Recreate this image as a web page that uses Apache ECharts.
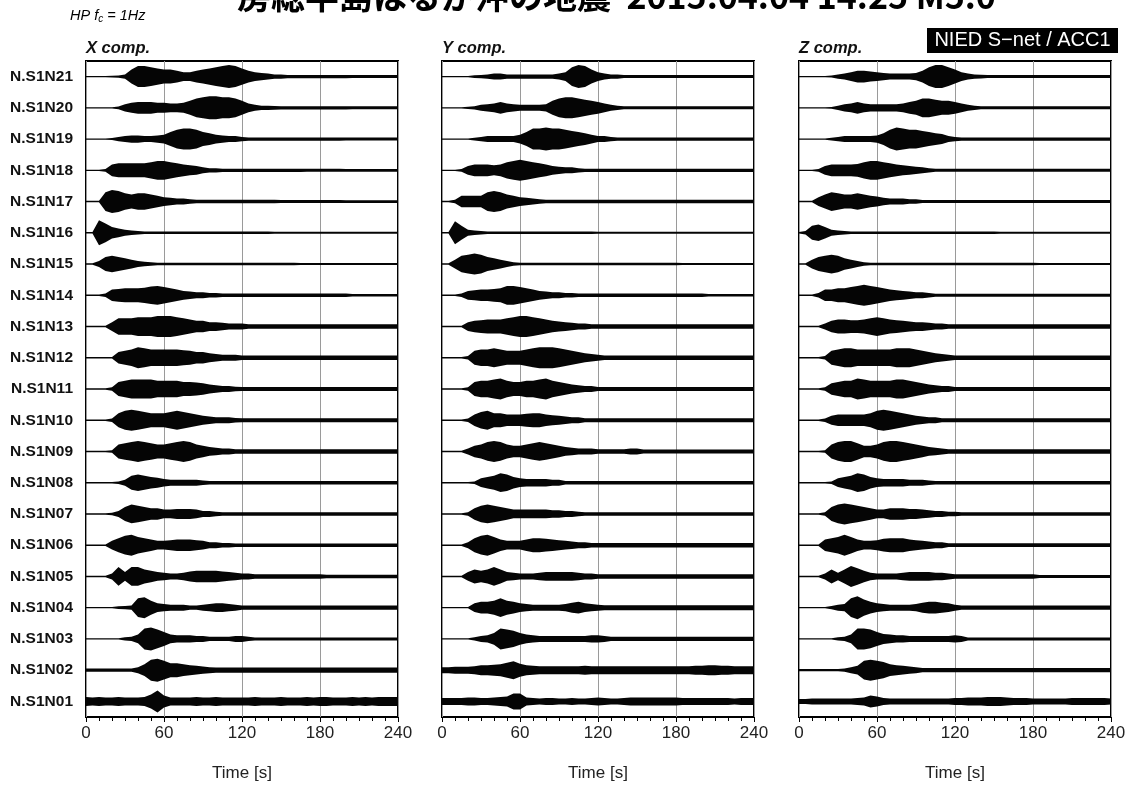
<!DOCTYPE html>
<html><head><meta charset="utf-8">
<script src="https://cdn.jsdelivr.net/npm/echarts@6/dist/echarts.min.js"></script>
<style>html,body{margin:0;padding:0;background:#fff}#c{width:1132px;height:787px}</style>
</head><body><div id="c"></div>
<script>
// Time samples (s) at which the envelope of each trace was read
const times = [0,5,10,15,20,25,30,35,40,45,50,55,60,65,70,75,80,85,90,95,100,105,110,115,120,125,130,135,140,145,150,155,160,165,170,175,180,185,190,195,200,205,210,215,220,225,230,235,240];
// Stations, bottom (N01) to top (N21)
const stations = ['N.S1N01','N.S1N02','N.S1N03','N.S1N04','N.S1N05','N.S1N06','N.S1N07','N.S1N08','N.S1N09','N.S1N10','N.S1N11','N.S1N12','N.S1N13','N.S1N14','N.S1N15','N.S1N16','N.S1N17','N.S1N18','N.S1N19','N.S1N20','N.S1N21'];
const componentNames = ['X comp.','Y comp.','Z comp.'];
const timeTicks = [0,60,120,180,240];
// Half-amplitude envelopes (1 unit = 1/31.25 of the trace spacing), rows N01..N21
const envX = [
 [4.5,4,4.5,4,4,4.5,4,4,4,4.5, 7,11,6,4,4,4,4,4.5,4,4, 4.5,4,4,4,4,4,4.5,4,4,4, 4.5,4,4,4,4.5,4,4.5,4.5,4,4, 4,4.5,4,4.5,4,4.5,4.5,4.5,4.5],
 [1.7,1.7,1.7,1.7,1.7,1.7,1.7,1.7,3,5.8, 10.5,11.5,9.4,7,7,5.8,5,4.4,3.7,3, 2.7,2.7,2.7,2.7,2.7,2.7,2.7,2.7,2.7,2.7, 2.7,2.7,2.7,2.7,2.7,2.7,2.7,2.7,2.7,2.7, 2.7,2.7,2.7,2.7,2.7,2.7,2.7,2.7,2.7],
 [.7,.7,.7,.7,.7,.7,1.7,2.2,4.4,10.5, 11.5,9.4,7,4.4,3.7,3.7,3.7,3,3,2.2, 2.2,2.2,2.2,3,3,2.2,1.5,1.5,1.5,1.5, 1.5,1.5,1.5,1.5,1.5,1.5,1.5,1.5,1.5,1.5, 1.5,1.5,1.5,1.5,1.5,1.5,1.5,1.5,1.5],
 [.7,.7,.7,.7,.7,1.3,1.7,2.2,9.4,10.5, 7,4.4,3.7,3,3,3,2.2,2.2,3,3.7, 4.4,4.4,3.7,3,2.2,2.2,2.2,2.2,2.2,2.2, 2.2,2.2,2.2,2.2,2.2,2.2,2.2,2.2,2.2,2.2, 2.2,2.2,2.2,2.2,2.2,2.2,2.2,2.2,2.2],
 [.7,.7,.7,.7,3,9.4,4.4,9.4,9.4,7, 5.8,4.4,3.7,3,3,3.7,5,5.8,5.8,5.8, 5.8,5,4.4,3.7,3,3,2.2,2.2,2.2,2.2, 2.2,2.2,2.2,2.2,2.2,2.2,2.2,1.7,1.7,1.7, 1.7,1.7,1.7,1.7,1.7,1.7,1.7,1.7,1.7],
 [.7,.7,.7,.7,4.4,7,9.4,10.5,8.2,7, 5.8,4.4,4.4,5,5.8,5.8,5.8,5,4.4,3, 3,2.2,2.2,1.7,1.7,1.7,1.7,1.7,1.7,1.7, 1.7,1.7,1.7,1.7,1.7,1.7,1.7,1.7,1.7,1.7, 1.7,1.7,1.7,1.7,1.7,1.7,1.7,1.7,1.7],
 [.7,.7,.7,.7,1.3,3,7,9.4,8.2,7, 5.8,5.8,4.4,4.4,5,5,5,4.4,3,3, 2.2,1.7,1.7,1.7,1.7,1.7,1.7,1.7,1.7,1.7, 1.7,1.7,1.7,1.7,1.7,1.7,1.7,1.7,1.7,1.7, 1.7,1.7,1.7,1.7,1.7,1.7,1.7,1.7,1.7],
 [.7,.7,.7,.7,.7,1.3,3,7,8.2,7, 5.8,5,3.7,3,3,3,3,3,2.2,1.7, 1.7,1.7,1.7,1.7,1.7,1.7,1.7,1.7,1.7,1.7, 1.7,1.7,1.7,1.7,1.7,1.7,1.7,1.7,1.7,1.7, 1.7,1.7,1.7,1.7,1.7,1.7,1.7,1.7,1.7],
 [.7,.7,.7,.7,1.3,7,8.2,9.4,10.5,9.4, 8.2,7,7,8.2,9.4,10.5,9.4,7,5.8,4.4, 3.7,3,3,2.2,2.2,2.2,2.2,2.2,2.2,2.2, 2.2,2.2,2.2,2.2,2.2,2.2,2.2,2.2,2.2,2.2, 2.2,2.2,2.2,2.2,2.2,2.2,2.2,2.2,2.2],
 [.7,.7,.7,.7,1.7,7,9.4,10.5,9.4,8.2, 7,7,7,8.2,9.4,8.2,7,5.8,4.4,3.7, 3,3,3,2.2,1.9,1.9,1.9,1.9,1.9,1.9, 1.9,1.9,1.9,1.9,1.9,1.9,1.9,1.9,1.9,1.9, 1.9,1.9,1.9,1.9,1.9,1.9,1.9,1.9,1.9],
 [.7,.7,.7,.7,1.7,7,8.2,9.4,9.4,9.4, 9.4,8.2,8.2,8.2,8.2,7,7,6.4,5.8,4.4, 3.7,3,3,2.2,2,2,2,2,2,2, 2,2,2,2,2,2,2,2,2,2, 2,2,2,2,2,2,2,2,2],
 [.7,.7,.7,.7,.7,5.8,7,8.2,10.5,9.4, 8.2,8.2,8.2,8.2,8.2,7.6,7,5.8,5.8,4.4, 3.7,3,3,3,2.2,2.2,2.2,2.2,2.2,2.2, 2.2,2.2,2.2,2.2,2.2,2.2,2.2,2.2,2.2,2.2, 2.2,2.2,2.2,2.2,2.2,2.2,2.2,2.2,2.2],
 [.7,.7,.7,.7,4.4,8.2,8.2,8.2,9.4,9.4, 9.4,10.5,10.5,10.5,9.4,8.2,7,5.8,5.8,4.4, 4.4,3.7,3,3,3,2.2,2.2,2.2,2.2,2.2, 2.2,2.2,2.2,2.2,2.2,2.2,2.2,2.2,2.2,2.2, 2.2,2.2,2.2,2.2,2.2,2.2,2.2,2.2,2.2],
 [.7,.7,.7,1.7,5.8,6.4,7,7,7,7.6, 8.8,9.4,8.2,7,5.8,4.4,3.7,3,3,2.2, 2.2,1.7,1.7,1.7,1.7,1.7,1.7,1.7,1.7,1.7, 1.7,1.7,1.7,1.7,1.7,1.7,1.7,1.7,1.7,1.7, 1.7,1.3,1.3,1.3,1.3,1.3,1.3,1.3,1.3],
 [.7,.7,3,7,8.2,7,5.8,4.4,3,2.2, 1.7,1.3,1.3,1.3,1.3,1.3,1.3,1.3,1.3,1.3, 1.3,1.3,1.3,1.3,1.3,1.3,1.3,1.3,1.3,1.3, 1.3,1.3,1.3,1,1,1,1,1,1,1, 1,1,1,1,1,1,1,1,1],
 [.7,.7,12.5,9.4,5.8,4.4,3,2.2,1.7,1.3, 1.3,1.3,1.3,1.3,1.3,1.3,1.3,1.3,1.3,1.3, 1.3,1.3,1.3,1.3,1.3,1.3,1.3,1.3,1.3,1, 1,1,1,1,1,1,1,1,1,1, 1,1,1,1,1,1,1,1,1],
 [.7,.7,.7,9.4,11.5,10.5,8.2,7,8.2,8.2, 7,5.8,4.4,3.7,3,3,2.2,1.7,1.7,1.7, 1.7,1.7,1.7,1.7,1.7,1.7,1.7,1.7,1.7,1.7, 1.5,1.5,1.5,1.5,1.5,1.5,1.5,1.5,1.5,1.5, 1.4,1.4,1.4,1.4,1.4,1.4,1.4,1.4,1.4],
 [.7,.7,.7,1.3,5.8,7,7,7,7,7, 8.2,9.4,9.4,8.2,7,5.8,5,4.4,3,2.2, 2.2,1.7,1.7,1.7,1.7,1.7,1.7,1.7,1.7,1.7, 1.7,1.7,1.7,1.7,1.5,1.5,1.5,1.5,1.5,1.5, 1.4,1.4,1.4,1.4,1.4,1.4,1.4,1.4,1.4],
 [.7,.7,.7,.7,1,2.2,3,3.7,3.7,3, 3,3.7,4.4,7,9.4,10.5,10.5,9.4,7,5.8, 4.4,3.7,3,3,2.2,1.7,1.7,1.7,1.7,1.7, 1.7,1.7,1.7,1.7,1.7,1.7,1.7,1.7,1.7,1.7, 1.5,1.5,1.5,1.5,1.5,1.5,1.5,1.5,1.5],
 [.7,.7,.7,.7,.7,1.3,3.7,5,5.8,5.8, 5.8,5,5,4.4,4.4,5,7,9.4,10.5,11.5, 11.5,10.5,10.5,9.4,7,4.4,3,2.2,2.2,1.9, 1.7,1.7,1.7,1.7,1.7,1.7,1.7,1.7,1.7,1.7, 1.7,1.5,1.5,1.5,1.5,1.5,1.5,1.5,1.5],
 [.7,.7,.7,.7,.8,1.1,2.2,7,10.5,10.5, 9.4,8.2,7,7,5.8,4.4,4.4,5.8,7,8.2, 9.4,10.5,11.5,10.5,8.2,5.8,4.4,3.7,3,2.2, 2.2,1.7,1.7,1.7,1.7,1.7,1.7,1.7,1.7,1.7, 1.7,1.5,1.5,1.5,1.5,1.5,1.5,1.5,1.5]
];
const envY = [
 [3.5,3.5,3.5,3.5,4,4,3.5,3.5,4,4.5, 5,8,8,4,3.5,3,3.5,3.5,3,3, 3.5,3,3,3.5,4,3.5,3,3,3.5,4, 4,4,4,4,4,4,4,3.5,3.5,3.5, 3.5,3.5,3.5,3.5,3.5,3,3.5,3.5,3.5],
 [3,3,3.5,3.5,3.5,4,5,5,5.5,6, 7.5,9,6.5,5,4.5,4,4,4,4,4, 4,4,4.5,4,4,4,4,4,4,4, 4,4,4,4,4,4,4,4,4,4.5, 4.5,5,5,4.5,4.5,4,4,4,4],
 [.7,.7,.7,.7,.7,1.7,3,3.7,5.8,10.5, 9.4,8.2,5.8,4.4,3.7,3,3,3,3,3, 3,3,3,3.7,3.7,3,2.2,2.2,2.2,2.2, 2.2,2.2,2.2,2.2,2.2,2.2,2.2,2.2,2.2,2.2, 2.2,2.2,2.2,2.2,2.2,2.2,2.2,2.2,2.2],
 [.7,.7,.7,.7,.7,4.4,5.8,5.8,7,9.4, 7,5.8,4.4,3.7,3,3,3,3,3,3.7, 5,5.8,4.4,3.7,3,2.5,2.5,2.5,2.5,2.5, 2.5,2.5,2.5,2.5,2.5,2.5,2.5,2.5,2.5,2.5, 2.5,2.5,2.5,2.5,2.5,2.5,2.5,2.5,2.5],
 [.7,.7,.7,.7,4.4,7,5.8,7,9.4,7, 4.4,3.7,3,3,3,3.7,4.4,4.4,4.4,4.4, 4.4,3.7,3,3,2.2,2.2,2.2,2.2,2.2,2.2, 2.2,2.2,2.2,2.2,2.2,2.2,2.2,2.2,2.2,2.2, 2.2,2.2,2.2,2.2,2.2,2.2,2.2,2.2,2.2],
 [.7,.7,.7,.7,3,7,9.4,10.5,8.2,5.8, 4.4,4.4,4.4,5.8,7,7,6.4,5.8,5,4.4, 3.7,3,3,2.2,2.2,2.2,2.2,2.2,2.2,2.2, 2.2,2.2,2.2,2.2,2.2,2.2,2.2,2.2,2.2,2.2, 2.2,2.2,2.2,2.2,2.2,2.2,2.2,2.2,2.2],
 [.7,.7,.7,.7,1.7,5.8,8.2,9.4,8.2,7, 5.8,4.4,4.4,4.4,4.4,4.4,4.4,3.7,3.7,3, 3,2.2,1.7,1.7,1.7,1.7,1.7,1.7,1.7,1.7, 1.7,1.7,1.7,1.7,1.7,1.7,1.7,1.7,1.7,1.7, 1.7,1.7,1.7,1.7,1.7,1.7,1.7,1.7,1.7],
 [.7,.7,.7,.7,.7,1.3,4.4,5.8,7,9.4, 8.2,5.8,4.4,3.7,3.7,3.7,3.7,3,3,1.7, 1.7,1.7,1.7,1.7,1.7,1.7,1.7,1.7,1.7,1.7, 1.7,1.7,1.7,1.7,1.7,1.7,1.7,1.7,1.7,1.7, 1.7,1.7,1.7,1.7,1.7,1.7,1.7,1.7,1.7],
 [.7,.7,.7,.7,3,5.8,7,9.4,10.5,9.4, 7,5.8,5.8,7,8.2,9.4,8.2,7,5.8,4.4, 3.7,3,3,3,2.2,2.2,2.2,2.2,2.2,3, 3,2,2,2,2,2,2,2,2,2, 2,2,2,2,2,2,2,2,2],
 [.7,.7,.7,.7,1.7,5.8,8.2,9.4,7,7, 5.8,5.8,5.8,6.4,7,7,5.8,5,4.4,3.7, 3,3,1.9,1.9,1.9,1.9,1.9,1.9,1.9,1.9, 1.9,1.9,1.9,1.9,1.9,1.9,1.9,1.9,1.9,1.9, 1.9,1.9,1.9,1.9,1.9,1.9,1.9,1.9,1.9],
 [.7,.7,.7,.7,1.7,7,8.2,8.2,9.4,10.5, 8.2,7,7,8.2,8.2,9.4,10.5,8.2,7,5.8, 4.4,3.7,3,3,2,2,2,2,2,2, 2,2,2,2,2,2,2,2,2,2, 2,2,2,2,2,2,2,2,2],
 [.7,.7,.7,.7,1.7,7,8.2,8.2,9.4,8.2, 7,7,7,8.2,9.4,10.5,10.5,10.5,9.4,8.2, 7,5.8,4.4,3.7,3,2.2,2.2,2.2,2.2,2.2, 2.2,2.2,2.2,2.2,2.2,2.2,2.2,2.2,2.2,2.2, 2.2,2.2,2.2,2.2,2.2,2.2,2.2,2.2,2.2],
 [.7,.7,.7,.7,4.4,5.8,6.4,7,7,7, 8.2,9.4,10.5,10.5,9.4,8.2,7,5.8,5,4.4, 3.7,3,3,2.2,2.2,2.2,2.2,2.2,2.2,2.2, 2.2,2.2,2.2,2.2,2.2,2.2,2.2,2.2,2.2,2.2, 2.2,2.2,2.2,2.2,2.2,2.2,2.2,2.2,2.2],
 [.7,.7,.7,1.7,4.4,5,5.8,5.8,6.4,7, 9.4,9.4,8.2,7,5.8,4.4,3.7,3,3,2.2, 2.2,1.7,1.7,1.7,1.7,1.7,1.7,1.7,1.7,1.7, 1.7,1.7,1.7,1.7,1.7,1.7,1.7,1.7,1.7,1.7, 1.7,1.3,1.3,1.3,1.3,1.3,1.3,1.3,1.3],
 [.7,.7,4.4,8.2,9.4,10.5,9.4,7,5.8,4.4, 3,1.7,1.3,1.3,1.3,1.3,1.3,1.3,1.3,1.3, 1.3,1.3,1.3,1.3,1.3,1.3,1.3,1.3,1.3,1.3, 1.3,1.3,1.3,1.3,1.3,1.3,1.3,1,1,1, 1,1,1,1,1,1,1,1,1],
 [.7,.7,11.5,7,3,2.2,1.7,1.3,1.3,1.3, 1.3,1.3,1.3,1.3,1.3,1.3,1.3,1.3,1.3,1.3, 1.3,1.3,1.3,1.3,1,1,1,1,1,1, 1,1,1,1,1,1,1,1,1,1, 1,1,1,1,1,1,1,1,1],
 [.7,.7,1.7,5.8,5.8,5.8,5.8,9.4,10.5,9.4, 7,5.8,4.4,3.7,3,2.2,1.7,1.7,1.7,1.7, 1.7,1.7,1.7,1.7,1.7,1.7,1.7,1.7,1.7,1.7, 1.7,1.7,1.7,1.7,1.7,1.7,1.7,1.7,1.7,1.7, 1.7,1.7,1.7,1.7,1.7,1.7,1.7,1.7,1.7],
 [.7,.7,.7,1.3,4.4,5.8,5.8,5.8,5,5.8, 8.2,9.4,10.5,9.4,8.2,7,5.8,4.4,3.7,3, 3,2.2,1.7,1.7,1.7,1.7,1.7,1.7,1.7,1.7, 1.7,1.7,1.7,1.7,1.7,1.7,1.7,1.7,1.7,1.7, 1.7,1.7,1.7,1.7,1.7,1.7,1.7,1.7,1.7],
 [.7,.7,.7,.7,.7,1.3,2.2,3,3,3, 3,3,4.4,7,10.5,10.5,11.5,10.5,10.5,9.4, 8.2,7,5.8,4.4,3,3,2.2,1.7,1.7,1.7, 1.7,1.7,1.7,1.7,1.7,1.7,1.7,1.7,1.7,1.7, 1.7,1.7,1.7,1.7,1.7,1.7,1.7,1.7,1.7],
 [.7,.7,.7,.7,1.1,1.7,3,3.7,4.4,5.8, 4.4,3.7,3,3,3,3,3.7,7,9.4,10.5, 10.5,9.4,8.2,7,5.8,4.4,3,2.2,1.5,1.5, 1.5,1.5,1.5,1.5,1.5,1.5,1.5,1.5,1.5,1.5, 1.5,1.5,1.5,1.5,1.5,1.5,1.5,1.5,1.5],
 [.7,.7,.7,.7,.7,1.3,1.7,2.2,3,3, 2.2,2.2,2.2,2.2,2.2,2.2,2.2,2.2,3,4.4, 9.4,11.5,10.5,7,4.4,3,2.2,2.2,1.5,1.5, 1.5,1.5,1.5,1.5,1.5,1.5,1.5,1.5,1.5,1.5, 1.5,1.5,1.5,1.5,1.5,1.5,1.5,1.5,1.5]
];
const envZ = [
 [2.5,2.5,3,3,3,3,3,3,3,3.5, 4,6,5,3.5,3,3,3,3,3,3, 3,3,3,3,3.5,3.5,4,4,4,4.5, 4.5,4.5,4,3.5,3.5,3.5,3,3,3,3, 3,3,3.5,3.5,3.5,3.5,3.5,3.5,3],
 [1.2,1.2,1.2,1.2,1.2,1.2,1.2,1.7,3,4.4, 9.4,10.5,9.4,8.2,5.8,5,4.4,3.7,3,2.2, 2.2,2.2,2.2,2.2,2.2,2.2,2.2,2.2,2.2,2.2, 2.2,2.2,2.2,2.2,2.2,2.2,2.2,2.2,2.2,2.2, 2.2,2.2,2.2,2.2,2.2,2.2,2.2,2.2,2.2],
 [.7,.7,.7,.7,.7,.7,1.7,2.2,4.4,10.5, 10.5,9.4,7,5,4.4,3.7,3.7,3,3,3, 3,3,3,3,3.7,3,1.5,1.5,1.5,1.5, 1.5,1.5,1.5,1.5,1.5,1.5,1.5,1.5,1.5,1.5, 1.5,1.5,1.5,1.5,1.5,1.5,1.5,1.5,1.5],
 [.7,.7,.7,.7,.7,1.7,3,3.7,9.4,11.5, 8.2,5.8,4.4,3.7,3,3,3,3,3.7,5, 5.8,5.8,5,4.4,3,2.2,2.2,2.2,2.2,2.2, 2.2,2.2,2.2,2.2,2.2,2.2,2.2,2.2,2.2,2.2, 2.2,2.2,2.2,2.2,2.2,2.2,2.2,2.2,2.2],
 [.7,.7,.7,.7,3,7,3.7,7,10.5,8.2, 5.8,3.7,3,3,3,3,3.7,4.4,4.4,4.4, 4.4,3.7,3.7,3,2.2,2.2,2.2,2.2,2.2,2.2, 2.2,2.2,2.2,2.2,2.2,2.2,2.2,1.5,1.5,1.5, 1.5,1.5,1.5,1.5,1.5,1.5,1.5,1.5,1.5],
 [.7,.7,.7,.7,5.8,7,8.2,10.5,8.2,5.8, 4.4,4.4,5,6.4,7,7,7,5.8,5,4.4, 3.7,3,3,1.9,1.9,1.9,1.9,1.9,1.9,1.9, 1.9,1.9,1.9,1.9,1.9,1.9,1.9,1.9,1.9,1.9, 1.9,1.9,1.9,1.9,1.9,1.9,1.9,1.9,1.9],
 [.7,.7,.7,.7,1.7,7,9.4,10.5,9.4,8.2, 7,5.8,4.4,4.4,5.8,5.8,5.8,5,5,4.4, 3.7,3,3,2.2,2.2,1.7,1.7,1.7,1.7,1.7, 1.7,1.7,1.7,1.7,1.7,1.7,1.7,1.7,1.7,1.7, 1.7,1.7,1.7,1.7,1.7,1.7,1.7,1.7,1.7],
 [.7,.7,.7,.7,.7,1.3,4.4,5.8,7,9.4, 8.2,5.8,4.4,3.7,3.7,3.7,3.7,3,3,3, 2.2,1.7,1.7,1.7,1.7,1.7,1.7,1.7,1.7,1.7, 1.7,1.7,1.7,1.7,1.7,1.7,1.7,1.7,1.7,1.7, 1.7,1.7,1.7,1.7,1.7,1.7,1.7,1.7,1.7],
 [.7,.7,.7,.7,1.3,7,9.4,10.5,10.5,8.2, 5.8,5.8,7,9.4,10.5,10.5,9.4,8.2,7,5.8, 4.4,3.7,3,2.2,2.2,2.2,2.2,2.2,2.2,2.2, 2.2,2.2,2.2,2.2,2.2,2.2,2.2,2.2,2.2,2.2, 2.2,2.2,2.2,2.2,2.2,2.2,2.2,2.2,2.2],
 [.7,.7,.7,.7,1.7,4.4,5.8,5.8,5.8,5.8, 5.8,7,9.4,10.5,9.4,8.2,7,5.8,4.4,3.7, 3,3,1.9,1.9,1.9,1.9,1.9,1.9,1.9,1.9, 1.9,1.9,1.9,1.9,1.9,1.9,1.9,1.9,1.9,1.9, 1.9,1.9,1.9,1.9,1.9,1.9,1.9,1.9,1.9],
 [.7,.7,.7,.7,1.7,5.8,7,8.2,8.2,10.5, 9.4,8.2,8.2,8.2,8.2,9.4,9.4,8.2,7,5.8, 4.4,3.7,3,3,2,2,2,2,2,2, 2,2,2,2,2,2,2,2,2,2, 2,2,2,2,2,2,2,2,2],
 [.7,.7,.7,.7,1.7,7,8.2,9.4,9.4,8.2, 8.2,8.2,8.2,8.2,8.2,9.4,9.4,9.4,8.2,7, 5.8,4.4,3.7,3,2.2,2.2,2.2,2.2,2.2,2.2, 2.2,2.2,2.2,2.2,2.2,2.2,2.2,2.2,2.2,2.2, 2.2,2.2,2.2,2.2,2.2,2.2,2.2,2.2,2.2],
 [.7,.7,.7,.7,3,5.8,7,7,6.4,6.4, 7,8.2,9.4,8.2,7,6.4,5.8,5,4.4,4.4, 3.7,3,3,2.2,2.2,2.2,2.2,2.2,2.2,2.2, 2.2,2.2,2.2,2.2,2.2,2.2,2.2,2.2,2.2,2.2, 2.2,2.2,2.2,2.2,2.2,2.2,2.2,2.2,2.2],
 [.7,.7,.7,2.2,5.8,5.8,7,7,8.2,9.4, 10.5,9.4,8.2,7,5.8,5,4.4,3.7,3,3, 2.2,1.5,1.5,1.5,1.5,1.5,1.5,1.5,1.5,1.5, 1.5,1.5,1.5,1.5,1.5,1.5,1.5,1.5,1.5,1.5, 1.5,1.5,1.5,1.5,1.5,1.5,1.5,1.5,1.5],
 [.7,.7,4.4,7,8.2,9.4,8.2,5.8,4.4,3, 1.7,1.3,1.3,1.3,1.3,1.3,1.3,1.3,1.3,1.3, 1.3,1.3,1.3,1.3,1.3,1.3,1.3,1.3,1.3,1.3, 1.3,1.3,1.3,1.3,1.3,1.3,1.3,1,1,1, 1,1,1,1,1,1,1,1,1],
 [.7,1.7,7,8.2,5.8,3,2.2,1.7,1.3,1.3, 1.3,1.3,1.3,1.3,1.3,1.3,1.3,1.3,1.3,1.3, 1.3,1.3,1.3,1.3,1.3,1.3,1.3,1.3,1.3,1.3, 1.3,1,1,1,1,1,1,1,1,1, 1,1,1,1,1,1,1,1,1],
 [.7,.7,.7,4.4,7,9.4,8.2,7,7,8.2, 7,5.8,5,3.7,3,3,3,2.2,2.2,1.5, 1.5,1.5,1.5,1.5,1.5,1.5,1.5,1.5,1.5,1.5, 1.5,1.5,1.5,1.5,1.5,1.5,1.5,1.5,1.5,1.5, 1.5,1.5,1.5,1.5,1.5,1.5,1.5,1.5,1.5],
 [.7,.7,.7,1.3,4.4,5.8,5.8,5.8,5.8,6.4, 8.2,9.4,9.4,8.2,7,5.8,5,4.4,3.7,3, 2.2,1.5,1.5,1.5,1.5,1.5,1.5,1.5,1.5,1.5, 1.5,1.5,1.5,1.5,1.5,1.5,1.5,1.5,1.5,1.5, 1.5,1.5,1.5,1.5,1.5,1.5,1.5,1.5,1.5],
 [.7,.7,.7,.7,.7,1.3,2.2,3,3,3, 3,3,3.7,5.8,9.4,11.5,10.5,9.4,9.4,8.2, 7,5.8,5,3,2.2,1.7,1.7,1.7,1.7,1.7, 1.7,1.7,1.7,1.7,1.7,1.7,1.7,1.7,1.7,1.7, 1.7,1.7,1.7,1.7,1.7,1.7,1.7,1.7,1.7],
 [.7,.7,.7,.7,.7,.8,2.2,3.7,4.4,5.8, 4.4,3.7,3.7,3.7,3.7,3.7,4.4,5.8,7,9.4, 9.4,8.2,7,7,5.8,4.4,3,2.2,1.5,1.5, 1.5,1.5,1.5,1.5,1.5,1.5,1.5,1.5,1.5,1.5, 1.5,1.5,1.5,1.5,1.5,1.5,1.5,1.5,1.5],
 [.7,.7,.7,.7,.7,1,2.2,3,4.4,5.8, 5.8,5,4.4,3.7,3,3,3,3,3.7,5.8, 9.4,11.5,11.5,9.4,7,4.4,3,2.2,1.9,1.5, 1.5,1.5,1.5,1.5,1.5,1.5,1.5,1.5,1.5,1.5, 1.5,1.5,1.5,1.5,1.5,1.5,1.5,1.5,1.5]
];
const AMP_PER_TRACE = 31.25;

[envX, envY, envZ].forEach((env, c) => env.forEach((row, r) => {
  if (row.length !== times.length) throw new Error('bad length comp ' + c + ' row ' + r + ': ' + row.length);
}));

const panelLeft = [86, 442, 799];
const envs = [envX, envY, envZ];
const FONT = '"Liberation Sans", Arial, sans-serif';

const grids = [], xAxes = [], yAxes = [], series = [];
envs.forEach((env, c) => {
  grids.push({left: panelLeft[c], top: 61, width: 312, height: 656, show: true,
    borderColor: '#000', borderWidth: 2, backgroundColor: 'transparent', containLabel: false});
  xAxes.push({gridIndex: c, type: 'value', min: 0, max: 240, interval: 60,
    axisLine: {show: false},
    axisTick: {show: true, length: 5, lineStyle: {color: '#000', width: 1}},
    minorTick: {show: true, splitNumber: 6, length: 4, lineStyle: {color: '#000', width: 1}},
    splitLine: {show: true, lineStyle: {color: '#9a9a9a', width: 1}},
    axisLabel: {fontSize: 17, color: '#222', margin: 8, fontFamily: FONT,
      formatter: v => timeTicks.indexOf(v) >= 0 ? String(v) : ''},
    name: 'Time [s]', nameLocation: 'middle', nameGap: 48,
    nameTextStyle: {fontSize: 17, color: '#222', fontFamily: FONT}});
  yAxes.push({gridIndex: c, type: 'category', data: stations, boundaryGap: true,
    axisLine: {show: false}, axisTick: {show: false}, splitLine: {show: false},
    axisLabel: {show: c === 0, fontWeight: 'bold', fontSize: 15.5, color: '#111', margin: 13, fontFamily: FONT}});
  yAxes.push({gridIndex: c, type: 'value', min: 0, max: 21, show: false});
  series.push({type: 'custom', xAxisIndex: c, yAxisIndex: 2 * c + 1, clip: true, silent: true,
    data: env.map((_, r) => [0, r + 0.5]), encode: {x: 0, y: 1},
    renderItem: (params, api) => {
      const r = params.dataIndex, a = env[r], base = r + 0.5;
      const top = [], bot = [];
      for (let k = 0; k < times.length; k++) {
        top.push(api.coord([times[k], base + a[k] / AMP_PER_TRACE]));
        bot.push(api.coord([times[k], base - a[k] / AMP_PER_TRACE]));
      }
      return {type: 'polygon', shape: {points: top.concat(bot.reverse())},
        style: {fill: '#050505', stroke: null}};
    }});
});

const graphics = [
  {type: 'text', x: 237, y: -4, style: {text: '房総半島はるか沖の地震  2015.04.04 14:25 M5.0',
    font: 'bold 34px "Noto Sans CJK JP"', fill: '#000', verticalAlign: 'middle', align: 'left'}},
  {type: 'text', x: 70, y: 7, style: {text: '{i|HP f}{s|c}{i| = 1Hz}', verticalAlign: 'top',
    rich: {i: {fontFamily: FONT, fontStyle: 'italic', fontSize: 14.5, color: '#777', lineHeight: 17},
           s: {fontFamily: FONT, fontStyle: 'italic', fontSize: 10, color: '#777', lineHeight: 10, verticalAlign: 'bottom'}}}},
  {type: 'rect', shape: {x: 927, y: 28, width: 191, height: 25}, style: {fill: '#000'}},
  {type: 'text', x: 1022.5, y: 40.5, style: {text: 'NIED S\u2212net / ACC1', font: '20px ' + FONT,
    fill: '#fff', align: 'center', verticalAlign: 'middle'}}
];
componentNames.forEach((n, c) => graphics.push({type: 'text', x: panelLeft[c], y: 48,
  style: {text: n, font: 'italic bold 16.5px ' + FONT, fill: '#111', verticalAlign: 'middle', align: 'left'}}));

const chart = echarts.init(document.getElementById('c'), null, {renderer: 'canvas'});
chart.setOption({animation: false, backgroundColor: '#fff', grid: grids, xAxis: xAxes, yAxis: yAxes,
  series: series, graphic: graphics});
</script></body></html>
